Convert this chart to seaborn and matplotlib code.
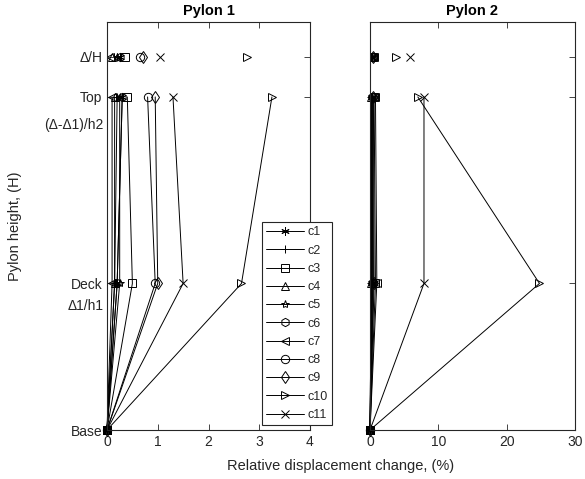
import matplotlib
matplotlib.use("Agg")
import matplotlib.pyplot as plt
import seaborn as sns
import pandas as pd

sns.set_theme(style="white")
plt.rcParams['font.family'] = ['Liberation Sans', 'DejaVu Sans']

series = ["c1", "c2", "c3", "c4", "c5", "c6", "c7", "c8", "c9", "c10", "c11"]
level_names = ["Base", "Deck", "Top", "Δ/H"]
level_pos = [0.0, 0.44, 1.0, 1.12]

# Pylon 1 values (%) at Deck, Top, and Δ/H
p1_deck = [0.20, 0.15, 0.50, 0.15, 0.25, 0.20, 0.10, 0.95, 1.00, 2.65, 1.50]
p1_top  = [0.30, 0.20, 0.40, 0.15, 0.25, 0.30, 0.10, 0.80, 0.95, 3.25, 1.30]
p1_dh   = [0.25, 0.20, 0.35, 0.10, 0.20, 0.25, 0.05, 0.65, 0.70, 2.75, 1.05]
# Pylon 2 values (%)
p2_deck = [0.30, 0.20, 0.80, 0.20, 0.40, 0.30, 1.00, 0.50, 0.60, 24.8, 7.9]
p2_top  = [0.30, 0.20, 0.60, 0.20, 0.30, 0.30, 0.80, 0.40, 0.50, 7.0, 7.9]
p2_dh   = [0.25, 0.20, 0.50, 0.20, 0.30, 0.25, 0.60, 0.40, 0.45, 3.8, 5.8]

markers = [(6, 2, 0), "+", "s", "^", "*", "h", "<", "o", "d", ">", "x"]

fig = plt.figure(figsize=(5.85, 4.79), dpi=100)
W, H = 585, 479
def axrect(l, r, t, b):
    return [l / W, 1 - b / H, (r - l) / W, (b - t) / H]

ax1 = fig.add_axes(axrect(107, 310, 22, 430))
ax2 = fig.add_axes(axrect(370, 575, 22, 430))

txtc = "#262626"
ms = 6
for ax, deck, top, dh, xmax, xt, title in [
        (ax1, p1_deck, p1_top, p1_dh, 4, [0, 1, 2, 3, 4], "Pylon 1"),
        (ax2, p2_deck, p2_top, p2_dh, 30, [0, 10, 20, 30], "Pylon 2")]:
    for i, s in enumerate(series):
        df = pd.DataFrame({"x": [0.0, deck[i], top[i]],
                           "y": [level_pos[0], level_pos[1], level_pos[2]]})
        sns.lineplot(data=df, x="x", y="y", ax=ax, sort=False, estimator=None,
                     color="black", lw=0.7, marker=markers[i], markersize=ms,
                     markerfacecolor="none", markeredgecolor="black",
                     markeredgewidth=0.7, label=s, clip_on=False)
        dfp = pd.DataFrame({"x": [dh[i]], "y": [level_pos[3]]})
        sns.lineplot(data=dfp, x="x", y="y", ax=ax, estimator=None,
                     color="black", lw=0, marker=markers[i], markersize=ms,
                     markerfacecolor="none", markeredgecolor="black",
                     markeredgewidth=0.7, legend=False)
    ax.set_xlim(0, xmax)
    ax.set_ylim(0, 1.225)
    ax.set_xticks(xt)
    ax.set_yticks(level_pos)
    ax.set_xlabel("")
    ax.set_ylabel("")
    ax.set_title(title, fontsize=10.5, fontweight="bold", color="black", pad=5)
    ax.tick_params(direction="in", length=4, width=0.6, colors=txtc,
                   labelsize=10, top=True, right=True, bottom=True, left=True)
    for sp in ax.spines.values():
        sp.set_color(txtc)
        sp.set_linewidth(0.8)
    if ax.get_legend() is not None:
        ax.get_legend().remove()

ax1.set_yticklabels(level_names)
ax2.set_yticklabels([])
ax1.set_ylabel("Pylon height, (H)", fontsize=10.5, color=txtc)
ax1.yaxis.set_label_coords((22 - 107) / 203, 0.5)
fig.text((107 + 575) / 2 / W, 1 - 466 / H, "Relative displacement change, (%)",
         ha="center", va="center", fontsize=10.5, color=txtc)
ax1.text(-0.015, 0.748, "(Δ-Δ1)/h2", transform=ax1.transAxes, ha="right",
         va="center", fontsize=10, color=txtc)
ax1.text(-0.015, 0.305, "Δ1/h1", transform=ax1.transAxes, ha="right",
         va="center", fontsize=10, color=txtc)

handles, labels = ax1.get_legend_handles_labels()
leg = fig.legend(handles, labels, loc="upper left",
                 bbox_to_anchor=(262 / W, 1 - 222 / H), frameon=True,
                 fontsize=9, handlelength=3.0, labelspacing=0.5,
                 borderpad=0.35, handletextpad=0.3, fancybox=False,
                 borderaxespad=0, edgecolor=txtc, framealpha=1)
leg.get_frame().set_linewidth(0.8)

fig.savefig("out.png", dpi=100)
